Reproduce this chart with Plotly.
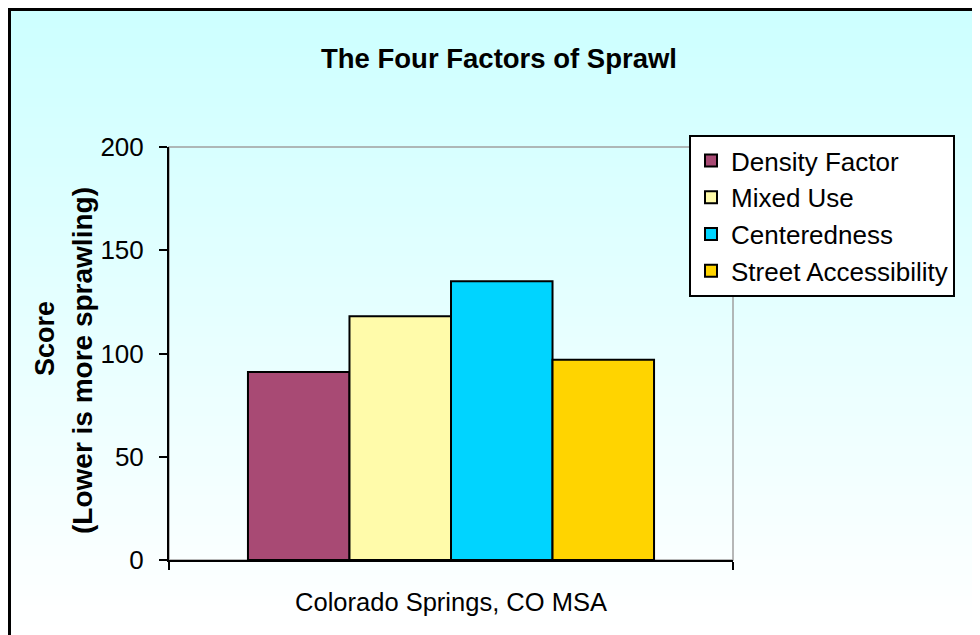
import plotly.graph_objects as go

# ---- data ----
categories = ["Colorado Springs, CO MSA"]
series_names = ["Density Factor", "Mixed Use", "Centeredness", "Street Accessibility"]
series_values = [[91], [118], [135], [97]]
series_colors = ["#A84A74", "#FFFBAA", "#00D4FF", "#FFD400"]
y_ticks = [0, 50, 100, 150, 200]

# page body has an 8px margin; work in screen pixels, convert to figure pixels
OFF = 8
W, H = 972, 627
PL, PR, PT, PB = 169, 733, 147, 560  # plot area in screen px
L, T = PL - OFF, PT - OFF
R, B = W - (PR - OFF), H - (PB - OFF)
pw, ph = (PR - PL), (PB - PT)

def px_x(x):
    return (x - PL) / pw

def px_y(y):
    return (PB - y) / ph

FONT = "Liberation Sans, Arial"

fig = go.Figure()
for name, vals, col in zip(series_names, series_values, series_colors):
    fig.add_trace(go.Bar(
        x=categories, y=vals, name=name,
        marker=dict(color=col, line=dict(color="black", width=2)),
        legendgroup=name,
    ))

shapes = []
# vertical gradient background (cyan at top to white at bottom)
n = 64
top, bot = 8, 645
for i in range(n):
    y0 = top + (bot - top) * i / n
    y1 = top + (bot - top) * (i + 1) / n + 1
    t = i / (n - 1)
    r = int(round(205 + (255 - 205) * min(1, t * 1.02)))
    shapes.append(dict(type="rect", xref="paper", yref="paper",
                       x0=px_x(6), x1=px_x(1000), y0=px_y(y1), y1=px_y(y0),
                       fillcolor=f"rgb({r},255,255)", line=dict(width=0), layer="below"))
# plot-area border (gray)
shapes.append(dict(type="rect", xref="paper", yref="paper", x0=0, x1=1, y0=0, y1=1,
                   line=dict(color="#A0A0A0", width=1.5), fillcolor="rgba(0,0,0,0)", layer="below"))
# outer chart border
shapes.append(dict(type="rect", xref="paper", yref="paper",
                   x0=px_x(9.5), x1=px_x(1010), y0=px_y(680), y1=px_y(9.5),
                   line=dict(color="black", width=3), fillcolor="rgba(0,0,0,0)", layer="above"))

annotations = [
    dict(text="<b>Score</b>", xref="paper", yref="paper", x=px_x(45), y=px_y(339),
         xanchor="center", yanchor="middle", textangle=-90, showarrow=False,
         font=dict(family=FONT, size=27, color="black")),
    dict(text="<b>(Lower is more sprawling)</b>", xref="paper", yref="paper", x=px_x(82), y=px_y(361),
         xanchor="center", yanchor="middle", textangle=-90, showarrow=False,
         font=dict(family=FONT, size=28, color="black")),
]

fig.update_layout(
    width=W, height=H,
    margin=dict(l=L, r=R, t=T, b=B, autoexpand=False),
    paper_bgcolor="white",
    plot_bgcolor="rgba(0,0,0,0)",
    font=dict(family=FONT, size=26, color="black"),
    title=dict(text="<b>The Four Factors of Sprawl</b>", x=(499 - OFF) / W, xref="container", xanchor="center",
               y=1 - (58 - OFF) / H, yref="container", yanchor="middle",
               font=dict(family=FONT, size=27.5, color="black")),
    barmode="group", bargap=0.28, bargroupgap=0,
    showlegend=True,
    legend=dict(x=px_x(689), y=px_y(135), xanchor="left", yanchor="top",
                bgcolor="white", bordercolor="black", borderwidth=2,
                font=dict(family=FONT, size=26), tracegroupgap=6, traceorder="normal",
                itemwidth=30),
    xaxis=dict(showline=True, linecolor="black", linewidth=2, ticks="outside",
               tickson="boundaries", ticklen=8, tickwidth=2, tickcolor="black",
               showgrid=False, ticklabelstandoff=18, tickfont=dict(size=25.5)),
    yaxis=dict(range=[0, 200], tickvals=y_ticks, showline=True, linecolor="black", linewidth=2,
               ticks="outside", ticklen=8, tickwidth=2, tickcolor="black", showgrid=False,
               zeroline=False, ticklabelstandoff=10, tickfont=dict(size=26)),
    shapes=shapes,
    annotations=annotations,
)

fig.write_html("out.html")
